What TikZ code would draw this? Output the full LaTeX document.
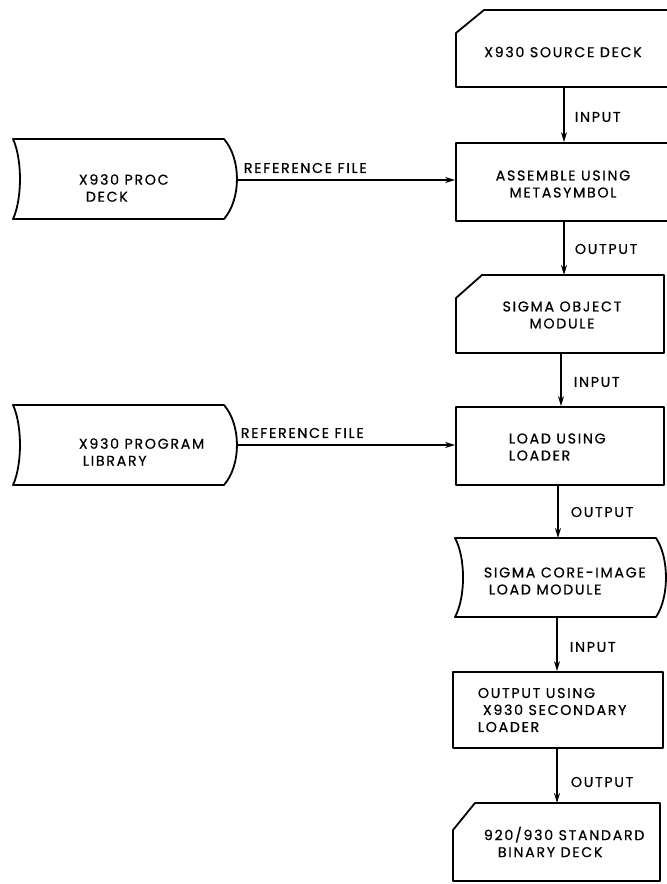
\documentclass[tikz,border=0pt]{standalone}
\usepackage{fontspec}
\setmainfont{Poppins}
\newfontfamily\dfont[LetterSpace=12,FakeBold=0.6]{Poppins}
\usetikzlibrary{arrows.meta}
\begin{document}
\begin{tikzpicture}[x=1pt,y=-1pt, line width=1.8pt, line join=round,
  lbl/.style={font=\dfont\fontsize{14.2}{17}\selectfont, inner sep=0pt},
  arr/.style={line width=2.4pt, -{Stealth[length=10pt,width=6pt]}},
  boxr/.style={draw, line width=1.8pt, rectangle, inner sep=0pt}]
\useasboundingbox (0,0) rectangle (667,884);

% ---------- X930 SOURCE DECK (card) ----------
\draw (456,33) -- (484,10) -- (669,10) -- (669,87) -- (456,87) -- cycle;
\coordinate (srcB) at (564,87);
\node[lbl] (srcT) at (563,52) {X930 SOURCE DECK};

% ---------- ASSEMBLE USING METASYMBOL ----------
\node[boxr, minimum width=213pt, minimum height=78pt] (asm) at (562.5,182) {};
\node[lbl, align=center] (asmT) at (563,184) {ASSEMBLE USING\\METASYMBOL};
\draw[arr] (srcB) -- (srcB |- asm.north);
\node[lbl, anchor=west] (in1) at (574,117) {INPUT};

% ---------- X930 PROC DECK ----------
\draw (13,139) -- (224,139) .. controls (241.3,159) and (241.3,199) .. (224,219)
      -- (13,219) .. controls (22.3,199) and (22.3,159) .. (13,139) -- cycle;
\coordinate (procR) at (237,180);
\node[lbl, anchor=west, align=left] (procT) at (78,188) {X930 PROC\\\hspace*{7pt}DECK};
\draw[arr] (procR) -- (procR -| asm.west);
\node[lbl, anchor=west] (ref1) at (243,168) {REFERENCE FILE};

% ---------- SIGMA OBJECT MODULE (card) ----------
\draw (456,298) -- (482,275) -- (664,275) -- (664,353) -- (456,353) -- cycle;
\coordinate (objT) at (564,275);
\coordinate (objB) at (561,353);
\node[lbl, align=center] (objTx) at (562,315) {SIGMA OBJECT\\MODULE};
\draw[arr] (asm.south -| objT) -- (objT);
\node[lbl, anchor=west] (out1) at (574,249) {OUTPUT};

% ---------- LOAD USING LOADER ----------
\node[boxr, minimum width=208pt, minimum height=78pt] (load) at (560,446) {};
\node[lbl, anchor=west, align=left] (loadT) at (508,447) {LOAD USING\\LOADER};
\draw[arr] (objB) -- (objB |- load.north);
\node[lbl, anchor=west] (in2) at (573,382) {INPUT};

% ---------- X930 PROGRAM LIBRARY ----------
\draw (13,405) -- (224,405) .. controls (241.3,425) and (241.3,465) .. (224,485)
      -- (13,485) .. controls (22.3,465) and (22.3,425) .. (13,405) -- cycle;
\coordinate (libR) at (237,445);
\node[lbl, anchor=west, align=left] (libT) at (78,452) {X930 PROGRAM\\\hspace*{4pt}LIBRARY};
\draw[arr] (libR) -- (libR -| load.west);
\node[lbl, anchor=west] (ref2) at (240,433) {REFERENCE FILE};

% ---------- SIGMA CORE-IMAGE LOAD MODULE ----------
\draw (455,538) -- (656,538) .. controls (669.3,557.75) and (669.3,597.25) .. (656,617)
      -- (455,617) .. controls (465.7,597.25) and (465.7,557.75) .. (455,538) -- cycle;
\coordinate (coreT) at (558,538);
\coordinate (coreB) at (557,617);
\node[lbl, anchor=west, align=left] (coreTx) at (483,581) {SIGMA CORE-IMAGE\\\hspace*{5pt}LOAD MODULE};
\draw[arr] (load.south -| coreT) -- (coreT);
\node[lbl, anchor=west] (out2) at (570,512) {OUTPUT};

% ---------- OUTPUT USING X930 SECONDARY LOADER ----------
\node[boxr, minimum width=210pt, minimum height=76pt] (outb) at (558,710) {};
\node[lbl, anchor=west, align=left] (outT) at (477,710) {OUTPUT USING\\\hspace*{5pt}X930 SECONDARY\\LOADER};
\draw[arr] (coreB) -- (coreB |- outb.north);
\node[lbl, anchor=west] (in3) at (569,647) {INPUT};

% ---------- 920/930 STANDARD BINARY DECK (card) ----------
\draw (453,830) -- (475,803) -- (660,803) -- (660,881) -- (453,881) -- cycle;
\coordinate (binT) at (557,803);
\node[lbl, anchor=west, align=left] (binTx) at (483,842) {920/930 STANDARD\\\hspace*{14pt}BINARY DECK};
\draw[arr] (outb.south -| binT) -- (binT);
\node[lbl, anchor=west] (out3) at (570,782) {OUTPUT};
\end{tikzpicture}
\end{document}
